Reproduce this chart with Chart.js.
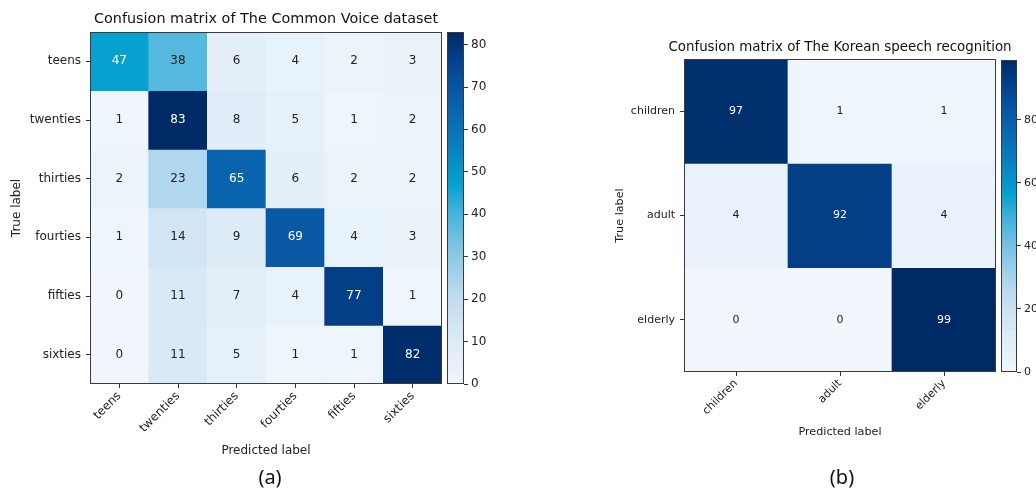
<!DOCTYPE html>
<html>
<head>
<meta charset="utf-8">
<script src="https://cdn.jsdelivr.net/npm/chart.js@4.4.0/dist/chart.umd.min.js"></script>
<style>
  html, body { margin: 0; padding: 0; background: #fff; }
  body { width: 1036px; height: 492px; overflow: hidden; position: relative; }
  .box { position: absolute; top: 0; height: 470px; }
  .cap { position: absolute; top: 463px; font-family: "Noto Sans", sans-serif; font-size: 20px; color: #111; transform: translateX(-50%); }
</style>
</head>
<body>
<div class="box" style="left:0;width:446px"><canvas id="cmA"></canvas></div>
<div class="box" style="left:440px;width:80px"><canvas id="cbA"></canvas></div>
<div class="box" style="left:560px;width:460px"><canvas id="cmB"></canvas></div>
<div class="box" style="left:990px;width:80px"><canvas id="cbB"></canvas></div>
<div class="cap" style="left:270px">(a)</div>
<div class="cap" style="left:842px">(b)</div>

<script>
// (a) Common Voice: rows = true label, columns = predicted label
const labelsA = ['teens', 'twenties', 'thirties', 'fourties', 'fifties', 'sixties'];
const matrixA = [
    [47, 38, 6, 4, 2, 3],
    [1, 83, 8, 5, 1, 2],
    [2, 23, 65, 6, 2, 2],
    [1, 14, 9, 69, 4, 3],
    [0, 11, 7, 4, 77, 1],
    [0, 11, 5, 1, 1, 82]
];
const cbTicksA = [0, 10, 20, 30, 40, 50, 60, 70, 80];

// (b) Korean speech recognition
const labelsB = ['children', 'adult', 'elderly'];
const matrixB = [
    [97, 1, 1],
    [4, 92, 4],
    [0, 0, 99]
];
const cbTicksB = [0, 20, 40, 60, 80];

// colour map (light -> cyan -> navy)
const cmapStops = [
    [0.00, [240, 246, 252]],
    [0.12, [220, 235, 247]],
    [0.25, [190, 220, 240]],
    [0.40, [120, 195, 228]],
    [0.50, [60, 176, 219]],
    [0.57, [4, 160, 206]],
    [0.70, [10, 120, 190]],
    [0.80, [10, 96, 170]],
    [0.90, [4, 70, 148]],
    [1.00, [0, 42, 102]]
];

function cmap(t) {
    t = Math.max(0, Math.min(1, t));
    for (let i = 1; i < cmapStops.length; i++) {
        const [t1, c1] = cmapStops[i];
        const [t0, c0] = cmapStops[i - 1];
        if (t <= t1) {
            const f = (t - t0) / (t1 - t0);
            const c = c0.map((v, k) => Math.round(v + (c1[k] - v) * f));
            return `rgb(${c[0]},${c[1]},${c[2]})`;
        }
    }
    return 'rgb(0,42,102)';
}

const FONT = 'DejaVu Sans';

function frameRect(ctx, a) {
    ctx.strokeStyle = '#3a3a3a';
    ctx.lineWidth = 1;
    ctx.strokeRect(Math.round(a.left) + 0.5, Math.round(a.top) + 0.5,
        Math.round(a.right - a.left) - 1, Math.round(a.bottom - a.top) - 1);
}

function matrixChart(id, o) {
    const n = o.labels.length;
    const vmax = Math.max(...o.matrix.flat());

    // one dataset per true-label row, each bar spans its row on the y scale
    const datasets = o.matrix.map((row, r) => ({
        data: row.map(() => [r - 0.5, r + 0.5]),
        backgroundColor: row.map(v => cmap(v / vmax)),
        borderWidth: 0,
        barPercentage: 1,
        categoryPercentage: 1,
        grouped: false
    }));

    const decor = {
        id: 'decor_' + id,
        afterDatasetsDraw(chart) {
            const { ctx, chartArea: a, scales: { x, y } } = chart;
            ctx.save();
            ctx.font = `${o.cellSize}px "${FONT}"`;
            ctx.textAlign = 'center';
            ctx.textBaseline = 'middle';
            o.matrix.forEach((row, r) => row.forEach((v, c) => {
                ctx.fillStyle = v > vmax / 2 ? '#ffffff' : '#222222';
                ctx.fillText(String(v), x.getPixelForValue(c), y.getPixelForValue(r));
            }));
            frameRect(ctx, a);
            ctx.font = `${o.titleSize}px "${FONT}"`;
            ctx.fillStyle = '#111';
            ctx.textBaseline = 'middle';
            ctx.fillText(o.title, (a.left + a.right) / 2, o.titleY);
            ctx.restore();
        }
    };

    return new Chart(document.getElementById(id), {
        type: 'bar',
        data: { labels: o.labels, datasets },
        options: {
            responsive: true,
            maintainAspectRatio: false,
            animation: false,
            layout: { padding: o.padding },
            plugins: { legend: { display: false }, tooltip: { enabled: false } },
            scales: {
                x: {
                    type: 'category',
                    offset: true,
                    grid: { display: true, offset: false, drawOnChartArea: false, tickLength: 4, tickColor: '#333' },
                    border: { display: false },
                    ticks: {
                        autoSkip: false, minRotation: 45, maxRotation: 45, padding: 1,
                        color: '#222', font: { family: FONT, size: o.tickSize }
                    },
                    title: {
                        display: true, text: 'Predicted label', color: '#222',
                        font: { family: FONT, size: o.labelSize }, padding: { top: o.xTitlePad, bottom: 0 }
                    },
                    afterFit: ax => { ax.height = o.xAxisH; }
                },
                y: {
                    type: 'linear',
                    reverse: true,
                    min: -0.5,
                    max: n - 0.5,
                    afterBuildTicks: ax => { ax.ticks = o.labels.map((_, i) => ({ value: i })); },
                    grid: { display: true, drawOnChartArea: false, tickLength: 4, tickColor: '#333' },
                    border: { display: false },
                    ticks: {
                        padding: 5, color: '#222', font: { family: FONT, size: o.tickSize },
                        callback: v => o.labels[v]
                    },
                    title: {
                        display: true, text: 'True label', color: '#222',
                        font: { family: FONT, size: o.labelSize }, padding: { top: o.yTitlePad, bottom: 0 }
                    },
                    afterFit: ax => { ax.width = o.yAxisW; }
                }
            }
        },
        plugins: [decor]
    });
}

function colorbarChart(id, o) {
    const frame = {
        id: 'frame_' + id,
        afterDatasetsDraw(chart) {
            chart.ctx.save();
            frameRect(chart.ctx, chart.chartArea);
            chart.ctx.restore();
        }
    };
    return new Chart(document.getElementById(id), {
        type: 'bar',
        data: {
            labels: [''],
            datasets: [{
                data: [[0, o.vmax]],
                borderWidth: 0,
                barPercentage: 1,
                categoryPercentage: 1,
                backgroundColor: c => {
                    const ch = c.chart;
                    if (!ch.chartArea) return 'transparent';
                    const ys = ch.scales.y;
                    const g = ch.ctx.createLinearGradient(0, ys.getPixelForValue(0), 0, ys.getPixelForValue(o.vmax));
                    cmapStops.forEach(([t, rgb]) => g.addColorStop(t, `rgb(${rgb[0]},${rgb[1]},${rgb[2]})`));
                    return g;
                }
            }]
        },
        options: {
            responsive: true,
            maintainAspectRatio: false,
            animation: false,
            layout: { padding: o.padding },
            plugins: { legend: { display: false }, tooltip: { enabled: false } },
            scales: {
                x: { display: false },
                y: {
                    position: 'right',
                    min: 0,
                    max: o.vmax,
                    afterBuildTicks: ax => { ax.ticks = o.ticks.map(v => ({ value: v })); },
                    grid: { display: true, drawOnChartArea: false, tickLength: 4, tickColor: '#333' },
                    border: { display: false },
                    ticks: { padding: 3, color: '#222', font: { family: FONT, size: o.tickSize } },
                    afterFit: ax => { ax.width = o.axisW; }
                }
            }
        },
        plugins: [frame]
    });
}

matrixChart('cmA', {
    labels: labelsA, matrix: matrixA,
    title: 'Confusion matrix of The Common Voice dataset', titleY: 19, titleSize: 14.4,
    tickSize: 12, cellSize: 12, labelSize: 12,
    padding: { left: 0, right: 4, top: 32, bottom: 12 },
    yAxisW: 90, xAxisH: 74, xTitlePad: 2, yTitlePad: 10
});
colorbarChart('cbA', {
    vmax: Math.max(...matrixA.flat()), ticks: cbTicksA, tickSize: 12,
    padding: { left: 7, right: 0, top: 32, bottom: 86 }, axisW: 56
});

matrixChart('cmB', {
    labels: labelsB, matrix: matrixB,
    title: 'Confusion matrix of The Korean speech recognition', titleY: 48, titleSize: 13.4,
    tickSize: 11, cellSize: 11, labelSize: 11.2,
    padding: { left: 0, right: 24, top: 59, bottom: 31 },
    yAxisW: 124, xAxisH: 67, xTitlePad: 2, yTitlePad: 53
});
colorbarChart('cbB', {
    vmax: Math.max(...matrixB.flat()), ticks: cbTicksB, tickSize: 11,
    padding: { left: 11, right: 0, top: 60, bottom: 98 }, axisW: 53
});
</script>
</body>
</html>
